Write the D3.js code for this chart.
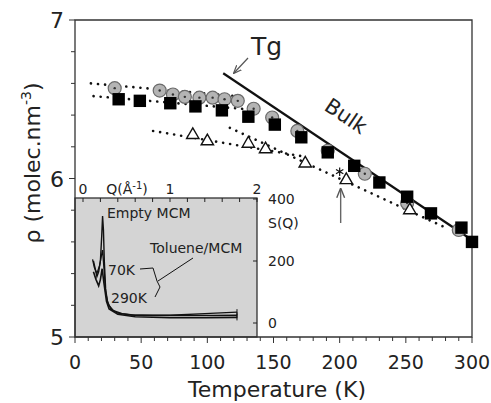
<!DOCTYPE html>
<html>
<head>
<meta charset="utf-8">
<script src="https://cdn.jsdelivr.net/npm/d3@7"></script>
<style>
  html, body { margin: 0; padding: 0; background: #fff; }
  svg { display: block; }
  text { font-family: "DejaVu Sans", sans-serif; fill: #222; }
</style>
</head>
<body>
<svg id="chart" width="491" height="403"></svg>
<script>
// ---- density vs temperature (main panel) ----
const circleT   = [30, 64, 74, 83, 94, 104, 113, 123, 135, 149, 168, 191, 219, 251, 290];
const circleRho = [6.57, 6.555, 6.53, 6.515, 6.51, 6.51, 6.50, 6.49, 6.44, 6.385, 6.30, 6.175, 6.03, 5.845, 5.675];

const squareT   = [33, 49, 72, 91, 111, 131, 151, 171, 191, 211, 230, 251, 269, 292, 300];
const squareRho = [6.50, 6.49, 6.475, 6.455, 6.43, 6.39, 6.34, 6.26, 6.165, 6.08, 5.975, 5.885, 5.78, 5.69, 5.60];

const triT   = [89, 100, 131, 144, 174, 205, 253];
const triRho = [6.275, 6.235, 6.22, 6.185, 6.095, 5.99, 5.80];

// dotted linear fits (end points)
const fitCircleLowT = [12, 128],  fitCircleLowRho = [6.60, 6.515];
const fitSquareLowT = [14, 140],  fitSquareLowRho = [6.52, 6.43];
const fitTriLowT    = [59, 172],  fitTriLowRho    = [6.30, 6.14];
const fitHighT      = [117, 280], fitHighRho      = [6.32, 5.69];

// bulk line
const bulkT = [112, 300], bulkRho = [6.664, 5.612];

// glass transition marker
const tgT = 200, tgRho = 6.043;

const xTicks = [0, 50, 100, 150, 200, 250, 300];
const yTicks = [5, 6, 7];

// ---- inset: structure factor ----
const qTicks = [0, 1, 2];
const sTicks = [0, 200, 400];
const emptyQ = [0.12, 0.14, 0.16, 0.18, 0.20, 0.215, 0.225, 0.235, 0.245, 0.26, 0.28, 0.32, 0.40, 0.55, 0.80, 1.20, 1.50, 1.77];
const emptyS = [200, 175, 150, 165, 200, 280, 345, 300, 200, 110, 70, 45, 32, 26, 24, 24, 24, 25];
const k70Q   = [0.11, 0.13, 0.16, 0.19, 0.21, 0.225, 0.24, 0.26, 0.29, 0.35, 0.45, 0.60, 1.00, 1.40, 1.77];
const k70S   = [205, 180, 160, 185, 215, 235, 180, 100, 60, 40, 30, 25, 25, 30, 35];
const k290Q  = [0.12, 0.15, 0.18, 0.20, 0.22, 0.24, 0.27, 0.30, 0.40, 0.60, 1.00, 1.40, 1.77];
const k290S  = [165, 140, 120, 140, 175, 130, 70, 45, 28, 20, 17, 17, 18];

const svg = d3.select("#chart");

const x = d3.scaleLinear().domain([0, 300]).range([75, 472]);
const y = d3.scaleLinear().domain([5, 7]).range([337, 20]);

// inset scales
const q = d3.scaleLinear().domain([0, 2]).range([83, 257]);
const s = d3.scaleLinear().domain([0, 400]).range([323, 199]);

// ---- inset box ----
const inset = svg.append("g");
inset.append("rect")
  .attr("x", x(0)).attr("y", s(400) - 1)
  .attr("width", q(2) - x(0)).attr("height", y(5) - s(400) + 1)
  .attr("fill", "#d4d4d4").attr("stroke", "#222").attr("stroke-width", 1.2);

// inset top ticks (every 0.2 in Q)
inset.selectAll("line.qt").data(d3.range(0, 2.01, 0.2)).join("line")
  .attr("x1", d => q(d)).attr("x2", d => q(d))
  .attr("y1", s(400) - 1).attr("y2", s(400) + 3)
  .attr("stroke", "#222").attr("stroke-width", 1);
// inset right ticks
inset.selectAll("line.st").data(sTicks).join("line")
  .attr("x1", q(2) - 4).attr("x2", q(2))
  .attr("y1", d => s(d)).attr("y2", d => s(d))
  .attr("stroke", "#222").attr("stroke-width", 1);

inset.selectAll("text.ql").data(qTicks).join("text")
  .attr("x", d => q(d)).attr("y", 194)
  .attr("text-anchor", "middle").attr("font-size", 14)
  .text(d => d);
inset.append("text").attr("x", 127).attr("y", 194)
  .attr("text-anchor", "middle").attr("font-size", 14)
  .html('Q(Å<tspan dy="-5" font-size="10">-1</tspan><tspan dy="5">)</tspan>');

inset.selectAll("text.sl").data(sTicks).join("text")
  .attr("x", 268).attr("y", d => s(d) + 5)
  .attr("font-size", 14)
  .text(d => d);
inset.append("text").attr("x", 268).attr("y", 228)
  .attr("font-size", 14).text("S(Q)");

const sLine = d3.line().x(d => q(d[0])).y(d => s(d[1]));
[[emptyQ, emptyS, 1.4], [k70Q, k70S, 1.3], [k290Q, k290S, 1.6]].forEach(([qs, ss, w]) => {
  inset.append("path")
    .attr("d", sLine(qs.map((v, i) => [v, ss[i]])))
    .attr("fill", "none").attr("stroke", "#111").attr("stroke-width", w);
  // end cap
  const qe = qs[qs.length - 1], se = ss[ss.length - 1];
  inset.append("line")
    .attr("x1", q(qe)).attr("x2", q(qe))
    .attr("y1", s(se) - 3).attr("y2", s(se) + 3)
    .attr("stroke", "#111").attr("stroke-width", 1);
});

inset.append("text").attr("x", 107).attr("y", 218).attr("font-size", 14).text("Empty MCM");
inset.append("text").attr("x", 150).attr("y", 253).attr("font-size", 14).text("Toluene/MCM");
inset.append("text").attr("x", 108).attr("y", 275).attr("font-size", 14).text("70K");
inset.append("text").attr("x", 111).attr("y", 303).attr("font-size", 14).text("290K");
// bracket joining the two temperatures to their label
inset.append("path")
  .attr("d", "M140,269 L153,268 L157,281 L160,287 L155,297 M158,281 L193,258")
  .attr("fill", "none").attr("stroke", "#111").attr("stroke-width", 1);

// ---- main axes ----
const axes = svg.append("g");
// frame
axes.append("path")
  .attr("d", `M${x(0)},${y(5)} L${x(0)},${y(7)} L${x(300)},${y(7)} L${x(300)},${y(5)} Z`)
  .attr("fill", "none").attr("stroke", "#333").attr("stroke-width", 1.3);

// x ticks: minor every 10, major every 50
axes.selectAll("line.xm").data(d3.range(0, 301, 10)).join("line")
  .attr("x1", d => x(d)).attr("x2", d => x(d))
  .attr("y1", y(5)).attr("y2", d => y(5) + (d % 50 === 0 ? 6 : 4))
  .attr("stroke", "#333").attr("stroke-width", 1);
axes.selectAll("text.xl").data(xTicks).join("text")
  .attr("x", d => x(d)).attr("y", 369)
  .attr("text-anchor", "middle").attr("font-size", 19)
  .text(d => d);

// y ticks: minor every 0.2
axes.selectAll("line.ym").data(d3.range(0, 11).map(i => 5 + i * 0.2)).join("line")
  .attr("x1", x(0)).attr("x2", (d, i) => x(0) - (i % 5 === 0 ? 6 : 4))
  .attr("y1", d => y(d)).attr("y2", d => y(d))
  .attr("stroke", "#333").attr("stroke-width", 1);
axes.selectAll("text.yl").data(yTicks).join("text")
  .attr("x", 64).attr("y", d => y(d) + 8)
  .attr("text-anchor", "end").attr("font-size", 22)
  .text(d => d);

axes.append("text")
  .attr("x", 277).attr("y", 397)
  .attr("text-anchor", "middle").attr("font-size", 22)
  .text("Temperature (K)");
axes.append("text")
  .attr("transform", "translate(40,163) rotate(-90)")
  .attr("text-anchor", "middle").attr("font-size", 22)
  .html('ρ (molec.nm<tspan dy="-9" font-size="14">-3</tspan><tspan dy="9">)</tspan>');

// ---- fits ----
const plot = svg.append("g");
const dLine = d3.line().x(d => x(d[0])).y(d => y(d[1]));
[[fitCircleLowT, fitCircleLowRho], [fitSquareLowT, fitSquareLowRho],
 [fitTriLowT, fitTriLowRho], [fitHighT, fitHighRho]].forEach(([ts, rs]) => {
  plot.append("path")
    .attr("d", dLine(ts.map((t, i) => [t, rs[i]])))
    .attr("fill", "none").attr("stroke", "#111").attr("stroke-width", 2.6)
    .attr("stroke-linecap", "round").attr("stroke-dasharray", "0.1,7");
});

// bulk line
plot.append("path")
  .attr("d", dLine(bulkT.map((t, i) => [t, bulkRho[i]])))
  .attr("fill", "none").attr("stroke", "#111").attr("stroke-width", 2.2);

// ---- markers ----
circleT.forEach((t, i) => {
  plot.append("circle").attr("cx", x(t)).attr("cy", y(circleRho[i])).attr("r", 6.5)
    .attr("fill", "#b4b4b4").attr("stroke", "#6a6a6a").attr("stroke-width", 1.2);
  plot.append("circle").attr("cx", x(t)).attr("cy", y(circleRho[i])).attr("r", 1.2)
    .attr("fill", "#333");
});
squareT.forEach((t, i) => {
  plot.append("rect").attr("x", x(t) - 6.2).attr("y", y(squareRho[i]) - 6.2)
    .attr("width", 12.4).attr("height", 12.4).attr("fill", "#000");
});
const tri = d3.symbol().type(d3.symbolTriangle).size(66);
triT.forEach((t, i) => {
  plot.append("path").attr("d", tri())
    .attr("transform", `translate(${x(t)},${y(triRho[i])})`)
    .attr("fill", "#fff").attr("stroke", "#111").attr("stroke-width", 1.4);
});

// asterisk at the transition and the arrow pointing to it
const star = d3.symbol().type(d3.symbolAsterisk).size(50);
plot.append("path").attr("d", star())
  .attr("transform", `translate(${x(tgT)},${y(tgRho)})`)
  .attr("fill", "none").attr("stroke", "#111").attr("stroke-width", 1.2);

const defs = svg.append("defs");
defs.append("marker").attr("id", "ah").attr("viewBox", "0 0 10 10")
  .attr("refX", 9).attr("refY", 5).attr("markerWidth", 7).attr("markerHeight", 7)
  .attr("orient", "auto-start-reverse")
  .append("path").attr("d", "M0,1 L10,5 L0,9").attr("fill", "none")
  .attr("stroke", "#555").attr("stroke-width", 1.4);

plot.append("line")
  .attr("x1", x(tgT) + 1).attr("x2", x(tgT) + 1)
  .attr("y1", 223).attr("y2", 189)
  .attr("stroke", "#666").attr("stroke-width", 1.4).attr("marker-end", "url(#ah)");

// Tg label and arrow
plot.append("text").attr("x", 251).attr("y", 55).attr("font-size", 25).text("Tg");
plot.append("line")
  .attr("x1", 248).attr("y1", 58).attr("x2", 234).attr("y2", 73)
  .attr("stroke", "#555").attr("stroke-width", 1.2).attr("marker-end", "url(#ah)");

plot.append("text")
  .attr("transform", "translate(342,122) rotate(34)")
  .attr("text-anchor", "middle").attr("font-size", 21)
  .text("Bulk");
</script>
</body>
</html>
